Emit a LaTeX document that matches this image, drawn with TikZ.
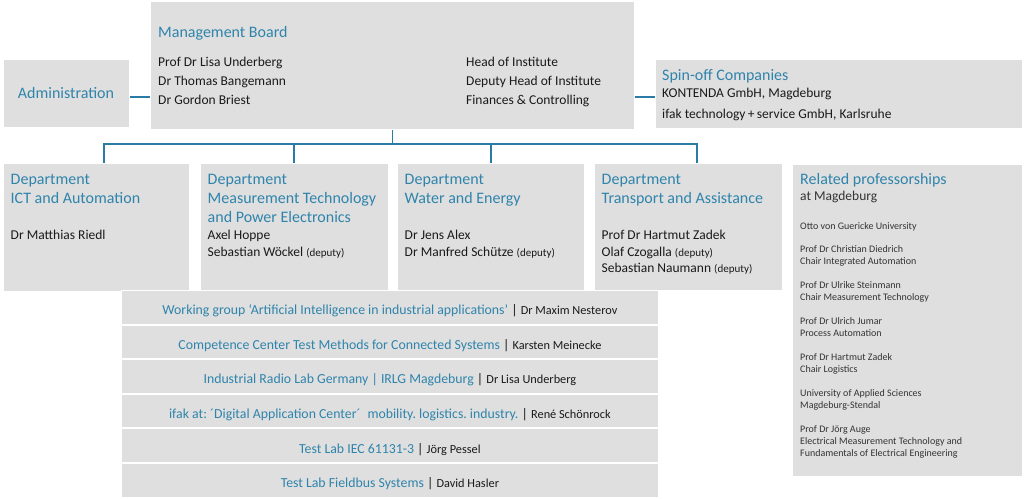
\documentclass[tikz,border=0pt]{standalone}
\usepackage{fontspec}
\setmainfont{Carlito}
\AtBeginDocument{\frenchspacing}
\definecolor{boxgray}{HTML}{DFDFDF}
\definecolor{ifblue}{HTML}{2F84AB}
\definecolor{lineblue}{HTML}{2B7CA5}
\definecolor{txt}{HTML}{1A1A1A}
\definecolor{txtsmall}{HTML}{333333}
\newcommand\deputytag{{\fontsize{11}{13}\selectfont (deputy)}}
\newcommand\wgtitle[1]{{\color{ifblue}\fontsize{13.8}{16}\selectfont #1}}
\newcommand\wgname[1]{{\color{txt}\fontsize{13.8}{16}\selectfont\ |\ \fontsize{12.3}{14}\selectfont #1}}
\begin{document}
\begin{tikzpicture}[x=1pt,y=-1pt,
  box/.style={fill=boxgray,draw=white,line width=0.8pt,inner sep=0,anchor=north west},
  ttl/.style={text=ifblue,font=\fontsize{16}{19}\selectfont,inner sep=0,anchor=base west},
  body/.style={text=txt,font=\fontsize{13.5}{17}\selectfont,inner sep=0,anchor=base west},
  small/.style={text=txtsmall,font=\fontsize{10}{12}\selectfont,inner sep=0,anchor=base west},
  wgtext/.style={inner sep=0,anchor=base},
  conn/.style={draw=lineblue,line width=1.8pt}
]
\fill[white] (0,0) rectangle (1024,498);
\useasboundingbox (0,0) rectangle (1024,498);

% boxes
\node[box,minimum width=126pt,minimum height=68pt] (adm) at (3,59) {};
\node[box,minimum width=484pt,minimum height=128pt] (mb) at (150,1) {};
\node[box,minimum width=367pt,minimum height=69pt] (spin) at (655,59) {};
\node[box,minimum width=186pt,minimum height=128pt] (d1) at (3,163) {};
\node[box,minimum width=188pt,minimum height=128pt] (d2) at (200,163) {};
\node[box,minimum width=187pt,minimum height=128pt] (d3) at (397,163) {};
\node[box,minimum width=188pt,minimum height=127pt] (d4) at (594,163) {};
\node[box,minimum width=230pt,minimum height=312pt] (rel) at (792,164) {};
\foreach \i in {0,...,5}{
  \node[box,minimum width=537pt,minimum height=33.6pt] (wg\i) at (121,{290+34.6*\i}) {};
}

% connectors
\coordinate (lvl) at (0,97);
\draw[conn] (adm.east |- lvl) -- (mb.west |- lvl);
\draw[conn] (mb.east |- lvl) -- (spin.west |- lvl);
\coordinate (bus) at (0,144);
\coordinate (k1) at (104,144);
\coordinate (k2) at (294,144);
\coordinate (k3) at (491,144);
\coordinate (k4) at (697,144);
\draw[conn] (mb.south) -- (mb.south |- bus);
\draw[conn] (k1 |- d1.north) -- (k1) -- (k4) -- (k4 |- d4.north);
\draw[conn] (k2) -- (k2 |- d2.north);
\draw[conn] (k3) -- (k3 |- d3.north);

% management board
\node[ttl] (mbt) at (158,37) {Management Board};
\node[body] (mb1) at (158,66) {Prof Dr Lisa Underberg};
\node[body] (mb2) at (158,85) {Dr Thomas Bangemann};
\node[body] (mb3) at (158,104) {Dr Gordon Briest};
\node[body] (mb4) at (466,66) {Head of Institute};
\node[body] (mb5) at (466,85) {Deputy Head of Institute};
\node[body] (mb6) at (466,104) {Finances \& Controlling};

% administration
\node[ttl,anchor=base] (admt) at (66,98.5) {Administration};

% spin-off
\node[ttl] (spt) at (662,80) {Spin-off Companies};
\node[body] (sp1) at (662,97.5) {KONTENDA GmbH, Magdeburg};
\node[body] (sp2) at (662,118.5) {ifak technology\,+\,service GmbH, Karlsruhe};

% departments
\node[ttl] (d1a) at (10.5,184) {Department};
\node[ttl] (d1b) at (10.5,203) {ICT and Automation};
\node[body] (d1c) at (10.5,239.5) {Dr Matthias Riedl};

\node[ttl] (d2a) at (207.5,184) {Department};
\node[ttl] (d2b) at (207.5,203) {Measurement Technology};
\node[ttl] (d2c) at (207.5,222) {and Power Electronics};
\node[body] (d2d) at (207.5,239.5) {Axel Hoppe};
\node[body] (d2e) at (207.5,256) {Sebastian Wöckel \deputytag};

\node[ttl] (d3a) at (404.5,184) {Department};
\node[ttl] (d3b) at (404.5,203) {Water and Energy};
\node[body] (d3c) at (404.5,239.5) {Dr Jens Alex};
\node[body] (d3d) at (404.5,256) {Dr Manfred Schütze \deputytag};

\node[ttl] (d4a) at (601.5,184) {Department};
\node[ttl] (d4b) at (601.5,203) {Transport and Assistance};
\node[body] (d4c) at (601.5,239.5) {Prof Dr Hartmut Zadek};
\node[body] (d4d) at (601.5,256) {Olaf Czogalla \deputytag};
\node[body] (d4e) at (601.5,272.5) {Sebastian Naumann \deputytag};

% related professorships
\node[ttl] (rt1) at (800,184) {Related professorships};
\node[body,text=txtsmall] (rt2) at (800,200.5) {at Magdeburg};
\node[small] (r0) at (800,229.5) {Otto von Guericke University};
\node[small] (r1) at (800,252.5) {Prof Dr Christian Diedrich};
\node[small] (r2) at (800,264.5) {Chair Integrated Automation};
\node[small] (r3) at (800,288.5) {Prof Dr Ulrike Steinmann};
\node[small] (r4) at (800,300.5) {Chair Measurement Technology};
\node[small] (r5) at (800,324.5) {Prof Dr Ulrich Jumar};
\node[small] (r6) at (800,336.5) {Process Automation};
\node[small] (r7) at (800,360.5) {Prof Dr Hartmut Zadek};
\node[small] (r8) at (800,372.5) {Chair Logistics};
\node[small] (r9) at (800,396.5) {University of Applied Sciences};
\node[small] (r10) at (800,408.5) {Magdeburg-Stendal};
\node[small] (r11) at (800,432.5) {Prof Dr Jörg Auge};
\node[small] (r12) at (800,444.5) {Electrical Measurement Technology and};
\node[small] (r13) at (800,456.5) {Fundamentals of Electrical Engineering};

% working groups
\node[wgtext] (w0) at ([yshift=-7.5pt]wg0.center) {\wgtitle{Working group ‘Artificial Intelligence in industrial applications’}\wgname{Dr Maxim Nesterov}};
\node[wgtext] (w1) at ([yshift=-7.5pt]wg1.center) {\wgtitle{Competence Center Test Methods for Connected Systems}\wgname{Karsten Meinecke}};
\node[wgtext] (w2) at ([yshift=-7.5pt]wg2.center) {\wgtitle{Industrial Radio Lab Germany | IRLG Magdeburg}\wgname{Dr Lisa Underberg}};
\node[wgtext] (w3) at ([yshift=-7.5pt]wg3.center) {\wgtitle{ifak at: ´Digital Application Center´\enspace mobility. logistics. industry.}\wgname{René Schönrock}};
\node[wgtext] (w4) at ([yshift=-7.5pt]wg4.center) {\wgtitle{Test Lab IEC 61131-3}\wgname{Jörg Pessel}};
\node[wgtext] (w5) at ([yshift=-7.5pt]wg5.center) {\wgtitle{Test Lab Fieldbus Systems}\wgname{David Hasler}};
\end{tikzpicture}
\end{document}
